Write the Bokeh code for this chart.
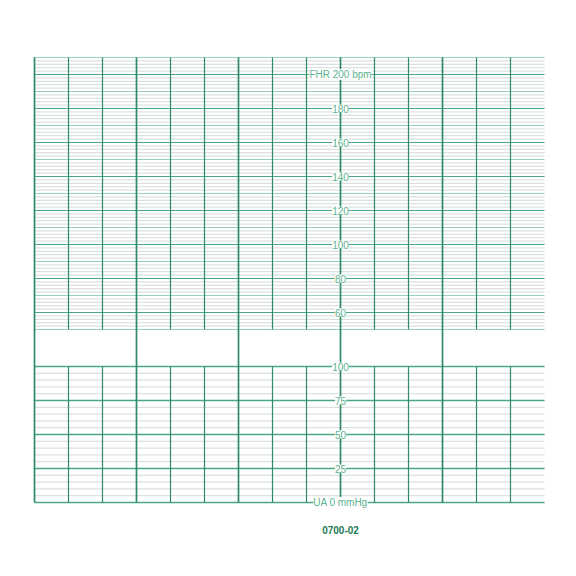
from bokeh.plotting import figure
from bokeh.models import ColumnDataSource, LabelSet, Range1d
from bokeh.core.properties import value
from bokeh.embed import file_html
from bokeh.resources import INLINE


# chart paper grid: 15 cm of time (3 cm/min), FHR 50-210 bpm, UA 0-100 mmHg
time_cm = list(range(0, 15))
minute_cm = [0, 3, 6, 9, 12]
fhr_minor = list(range(50, 211, 2))
fhr_mid = [50, 70, 90, 110, 130, 150, 170, 190, 210]
fhr_major = [60, 80, 100, 120, 140, 160, 180, 200]
ua_minor = list(range(0, 101, 5))
ua_major = [0, 25, 50, 75, 100]

fhr_labels = ["60", "80", "100", "120", "140", "160", "180", "FHR 200 bpm"]
fhr_label_vals = [60, 80, 100, 120, 140, 160, 180, 200]
ua_labels = ["UA 0 mmHg", "25", "50", "75", "100"]
ua_label_vals = [0, 25, 50, 75, 100]
form_number = "0700-02"

PX = 34.0           # pixels per cm
GAP = 1.088         # blank band between the two panels, cm
FHR_BASE = 4 + GAP  # y of 50 bpm
LABEL_X = 9         # labels sit on the 9 cm line
WIDTH_CM = 15
FONT = value("Liberation Sans")

GREEN_DARK = "#2f8a66"
GREEN = "#4aa882"
GREEN_LIGHT = "#96d2b5"
GREY = "#cdd6d2"
TEXT_GREEN = "#5cb38e"


def fhr_y(bpm):
    return FHR_BASE + (bpm - 50) / 20.0


def ua_y(mmhg):
    return mmhg / 25.0


fhr_top = fhr_y(210)

p = figure(width=560, height=560, output_backend="svg", toolbar_location=None,
           min_border=0, x_axis_type=None, y_axis_type=None)
p.x_range = Range1d(-34 / PX, -34 / PX + 560 / PX)
p.y_range = Range1d(502 / PX - 560 / PX, 502 / PX)
p.grid.visible = False
p.outline_line_color = None
p.background_fill_color = "white"
p.border_fill_color = "white"


def hlines(vals, mapper, color, width):
    ys = [mapper(v) for v in vals]
    p.segment(x0=[0] * len(ys), y0=ys, x1=[WIDTH_CM] * len(ys), y1=ys,
              line_color=color, line_width=width)


# horizontal rulings
hlines(fhr_minor, fhr_y, GREY, 0.9)
hlines(fhr_mid, fhr_y, GREEN_LIGHT, 1.0)
hlines(fhr_major, fhr_y, GREEN, 1.2)
hlines(ua_minor, ua_y, GREY, 0.9)
hlines(ua_major, ua_y, GREEN, 1.4)

# vertical rulings, split at the blank band except on minute lines
others = [t for t in time_cm if t not in minute_cm]
p.segment(x0=others, y0=[ua_y(0)] * len(others), x1=others,
          y1=[ua_y(100)] * len(others), line_color=GREEN_DARK, line_width=1.2)
p.segment(x0=others, y0=[fhr_y(50)] * len(others), x1=others,
          y1=[fhr_top] * len(others), line_color=GREEN_DARK, line_width=1.2)
p.segment(x0=minute_cm, y0=[ua_y(0)] * len(minute_cm), x1=minute_cm,
          y1=[fhr_top] * len(minute_cm), line_color=GREEN_DARK, line_width=1.7)

# scale labels on the 9 cm line
lab_src = ColumnDataSource(dict(
    x=[LABEL_X] * (len(fhr_labels) + len(ua_labels)),
    y=[fhr_y(v) for v in fhr_label_vals] + [ua_y(v) for v in ua_label_vals],
    text=fhr_labels + ua_labels,
))
p.add_layout(LabelSet(x="x", y="y", text="text", source=lab_src,
                      text_align="center", text_baseline="middle",
                      text_font=FONT, text_font_size="10px",
                      text_color=TEXT_GREEN, background_fill_color="white"))

num_src = ColumnDataSource(dict(x=[LABEL_X], y=[ua_y(0) - 0.82], text=[form_number]))
p.add_layout(LabelSet(x="x", y="y", text="text", source=num_src,
                      text_align="center", text_baseline="middle",
                      text_font=FONT, text_font_size="10px",
                      text_font_style="bold", text_color="#1f7a55"))

open("out.html", "w").write(file_html(p, INLINE))
